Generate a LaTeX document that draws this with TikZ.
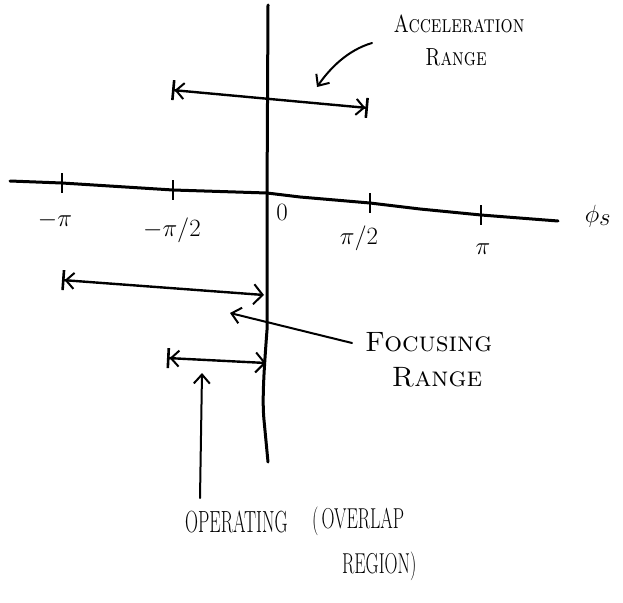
\documentclass[tikz,border=0pt]{standalone}
\usepackage{amsmath, amssymb}
\usepackage{tikz}
\usetikzlibrary{arrows.meta, positioning, calc}

\begin{document}
\begin{tikzpicture}[x=1pt,y=-1pt,
		axisline/.style={line width=3pt,line cap=round,line join=round},
		tickmark/.style={line width=1.6pt},
		rangebar/.style={line width=2.4pt,line cap=round},
		pointer/.style={line width=2pt,line cap=round,-{Straight Barb[length=9pt,width=16pt,line width=2pt]}},
		bothends/.style={{Bar[width=20pt,line width=2.6pt]Straight Barb[length=8pt,width=16pt,line width=2pt]}-{Straight Barb[length=8pt,width=16pt,line width=2pt]Bar[width=20pt,line width=2.6pt]}},
		leftend/.style={{Bar[width=20pt,line width=2.6pt]Straight Barb[length=8pt,width=16pt,line width=2pt]}-{Straight Barb[length=9pt,width=20pt,line width=2pt]}},
		ticklabel/.style={font=\fontsize{28}{30}\selectfont},
		note/.style={font=\fontsize{19}{21}\selectfont,inner sep=1pt},
		bignote/.style={font=\fontsize{28}{30}\selectfont,inner sep=1pt},
		tallnote/.style={font=\fontsize{18}{20}\selectfont,inner sep=1pt}]
	\useasboundingbox (0,0) rectangle (623,602);
	% axes
	\coordinate (xl) at (10,181);
	\coordinate (xr) at (558,221);
	\coordinate (yt) at (268,5);
	\coordinate (yb) at (268,462);
	\draw[axisline] (xl) -- (62,183) -- (173,190) -- (267,193) -- (300,197)
		-- (370,203) -- (420,209) -- (481,215) -- (xr);
	\draw[axisline] (yt) -- (267,200) -- (267,330) .. controls (264,370) and (262,400) .. (264,420) -- (yb);
	% ticks
	\foreach \tx/\ty in {62/183, 173/190, 370/203, 481/215}
		\draw[tickmark] (\tx,\ty-10) -- (\tx,\ty+10);
	\node[ticklabel] (mpi) at (55,220) {$-\pi$};
	\node[ticklabel] (mhalf) at (172,230) {$-\pi/2$};
	\node[font=\fontsize{24}{26}\selectfont] (zero) at (282,212) {$0$};
	\node[ticklabel] (phalf) at (359,238) {$\pi/2$};
	\node[ticklabel] (ppi) at (483,249) {$\pi$};
	\node[font=\fontsize{38}{40}\selectfont] (phis) at (598,216) {$\phi_s$};
	% ranges
	\coordinate (accl) at (172,90);
	\coordinate (accr) at (368,108);
	\coordinate (focl) at (62,280);
	\coordinate (focr) at (264,295);
	\coordinate (ovll) at (167,358);
	\coordinate (ovlr) at (266,363);
	\draw[rangebar,bothends] (accl) -- (accr);
	\draw[rangebar,leftend] (focl) -- (focr);
	\draw[rangebar,leftend] (ovll) -- (ovlr);
	% labels
	\node[note] (acc1) at (459,24) {\scalebox{1}[1.3]{\textsc{Acceleration}}};
	\node[note] (acc2) at (456,57) {\scalebox{1}[1.3]{\textsc{Range}}};
	\node[bignote,anchor=west] (foc1) at (364,342) {\textsc{Focusing}};
	\node[bignote] (foc2) at (437,377) {\textsc{Range}};
	\node[tallnote,anchor=west] (op1) at (184,522) {\scalebox{1}[1.7]{OPERATING}};
	\node[tallnote,anchor=west] (op2) at (311,521) {\scalebox{1}[1.6]{(\,OVERLAP}};
	\node[tallnote,anchor=west] (op3) at (341,566) {\scalebox{1}[1.6]{REGION)}};
	% pointers
	\coordinate (acctip) at (317,87);
	\coordinate (foctip) at (230,313);
	\coordinate (optip) at (202,373);
	\draw[pointer] (372,43) .. controls (348,50) and (330,68) .. (acctip);
	\draw[pointer] (352,343) -- (foctip);
	\draw[pointer] (200,498) -- (optip);
\end{tikzpicture}
\end{document}
